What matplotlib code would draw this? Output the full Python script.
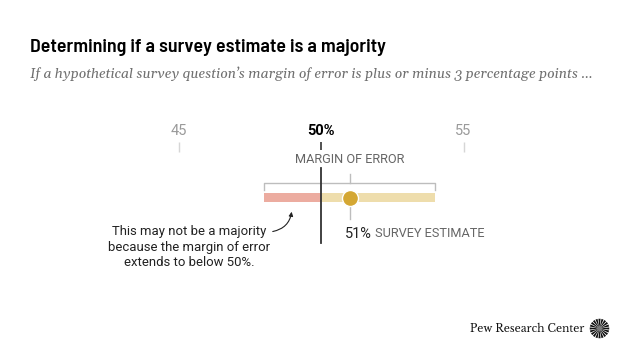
import numpy as np
import matplotlib
matplotlib.use("Agg")
import matplotlib.pyplot as plt
from matplotlib import font_manager
from matplotlib.patches import FancyArrowPatch, Polygon

# ---- data ----
tick_values = [45, 50, 55]
tick_labels = ["45", "50%", "55"]
estimate = 51
margin = 3
threshold = 50
estimate_label = "51%"

title = "Determining if a survey estimate is a majority"
subtitle = "If a hypothetical survey question\u2019s margin of error is plus or minus 3 percentage points ..."
note_lines = ["This may not be a majority", "because the margin of error", "extends to below 50%."]

fonts = [(f.name, f.weight, f.style) for f in font_manager.fontManager.ttflist]

def pick(names, weights, style="normal"):
    for n in names:
        for (fn, fw, fs) in fonts:
            if fn == n and fs == style and (fw in weights or str(fw) in [str(w) for w in weights]):
                return n
    return None

narrow = pick(["Barlow Semi Condensed", "Archivo Narrow", "Barlow Condensed", "Asap Condensed"], [600, 700]) or "Roboto"
narrow_w = "bold" if narrow != "Barlow Semi Condensed" else 600
sans = pick(["Libre Franklin"], [400, "regular", "normal"]) or "Roboto"
sans_bold_ok = pick([sans], [700, "bold"]) is not None
serif = "Gelasio" if pick(["Gelasio"], [400, "regular", "normal"], "italic") else "Liberation Serif"
logo_serif = pick(["Libre Baskerville"], [400, "regular", "normal"]) or "Liberation Serif"

W, H = 640, 360
fig = plt.figure(figsize=(6.4, 3.6), dpi=100)
ax = fig.add_axes([0, 0, 1, 1])
k = 28.5  # px per unit
x0 = 321
ax.set_xlim(threshold - x0 / k, threshold + (W - x0) / k)
ax.set_ylim(H, 0)
ax.axis("off")

renderer = fig.canvas.get_renderer()

def fit(t, target):
    for _ in range(3):
        w = t.get_window_extent(renderer).width
        t.set_fontsize(t.get_fontsize() * target / w)

def px2x(px):
    return threshold + (px - x0) / k

# title / subtitle (figure pixel coords)
t1 = fig.text(30 / W, 1 - 47 / H, title, fontsize=13, fontweight=narrow_w,
              family=narrow, color="#000000", va="center", ha="left")
fit(t1, 356)
t2 = fig.text(30 / W, 1 - 74 / H, subtitle, fontsize=11, style="italic",
              family=serif, color="#707070", va="center", ha="left")
fit(t2, 562)

# ticks
for v, lab in zip(tick_values, tick_labels):
    strong = (v == threshold)
    ax.text(v, 131, lab, ha="center", va="center", fontsize=10.5,
            family=sans if (not strong or sans_bold_ok) else "Roboto",
            fontweight="bold" if strong else "normal",
            color="#000000" if strong else "#9a9a9a")
    ax.plot([v, v], [141.5, 150] if strong else [141.5, 151.5],
            color="#333333" if strong else "#d6d6d6",
            lw=1.2 if strong else 1.0, solid_capstyle="butt")

# margin of error label and bracket
lo, hi = estimate - margin, estimate + margin
tm = ax.text(estimate, 159.5, "MARGIN OF ERROR", ha="center", va="center",
             fontsize=9, family=sans, color="#666666")
fit(tm, 110)
ax.plot([estimate, estimate], [174, 183], color="#bdbdbd", lw=1)
ax.plot([lo, lo, hi, hi], [190, 183, 183, 190], color="#bdbdbd", lw=1)

# bar
ax.fill_between([lo, threshold], 193.3, 202.3, color="#ecaca0", lw=0)
ax.fill_between([threshold, hi], 193.3, 202.3, color="#eeddac", lw=0)

# threshold line
ax.plot([threshold, threshold], [168, 243], color="#333333", lw=1.3)

# estimate dot
ax.plot([estimate, estimate], [207, 219], color="#bdbdbd", lw=1)
ax.scatter([estimate], [197.8], s=16 ** 2 * 0.52, color="#d4a733",
           edgecolor="white", linewidth=1.0, zorder=5)

t3 = ax.text(estimate - 0.15, 233.5, estimate_label, ha="left", va="center",
             fontsize=10.5, family=sans, color="#222222")
fit(t3, 27)
fig.canvas.draw()
bb = t3.get_window_extent(renderer)
xr = ax.transData.inverted().transform((bb.x1 + 3, 0))[0]
ax.text(xr, 233.5, "SURVEY ESTIMATE", ha="left", va="center",
        fontsize=tm.get_fontsize(), family=sans, color="#666666")

# note
cx = px2x(189)
for i, line in enumerate(note_lines):
    tn = ax.text(cx, 232 + 15 * i, line, ha="center", va="center",
                 fontsize=9.4, family=sans, color="#222222")
    if i == 0:
        fit(tn, 153)
        note_fs = tn.get_fontsize()
    else:
        tn.set_fontsize(note_fs)

arr = FancyArrowPatch((px2x(270), 232), (px2x(292), 209),
                      connectionstyle="arc3,rad=0.4", arrowstyle="-|>",
                      mutation_scale=6, color="#222222", lw=0.8)
ax.add_patch(arr)

# logo
t4 = fig.text(470 / W, 1 - 329 / H, "Pew Research Center", fontsize=10,
              family=logo_serif, color="#111111", va="center", ha="left")
fit(t4, 114)
lcx, lcy, r = 599.5, 328.5, 9.8
n = 20
half = np.pi / n * 0.7
for a in np.linspace(0, 2 * np.pi, n, endpoint=False):
    pts = [(px2x(lcx), lcy),
           (px2x(lcx + r * np.cos(a - half)), lcy + r * np.sin(a - half)),
           (px2x(lcx + r * np.cos(a + half)), lcy + r * np.sin(a + half))]
    ax.add_patch(Polygon(pts, closed=True, color="#111111", lw=0))

fig.savefig("out.png", dpi=100)
